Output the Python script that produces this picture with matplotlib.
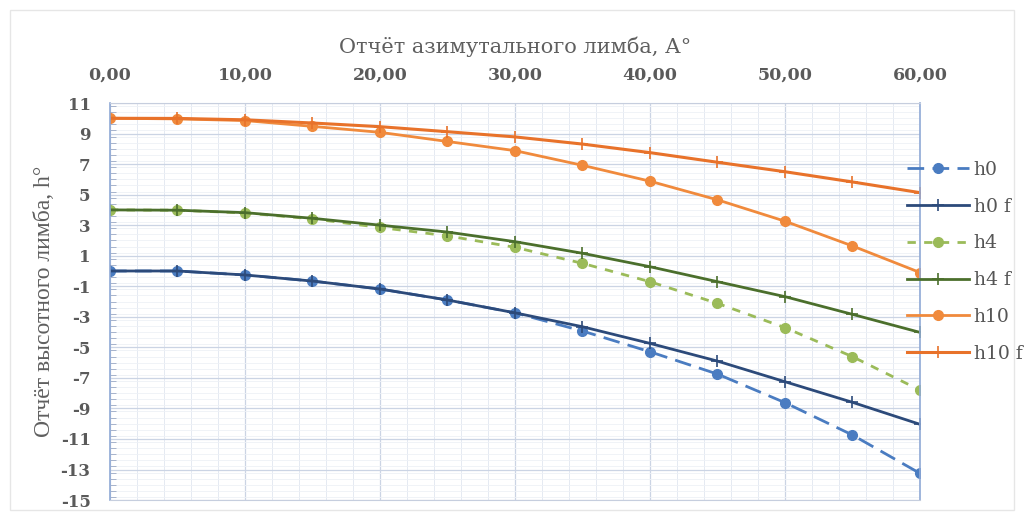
import matplotlib
matplotlib.use("Agg")
import matplotlib.pyplot as plt
from matplotlib.ticker import MultipleLocator, FuncFormatter
from matplotlib.patches import Rectangle

# азимут, градусы
azimuth = [0, 5, 10, 15, 20, 25, 30, 35, 40, 45, 50, 55, 60]

h0 = [0.0, 0.0, -0.26, -0.66, -1.18, -1.9, -2.74, -3.93, -5.29, -6.75, -8.62, -10.74, -13.25]
h0_f = [0.0, 0.0, -0.26, -0.66, -1.18, -1.9, -2.74, -3.65, -4.74, -5.9, -7.25, -8.6, -10.04]
h4 = [4.0, 3.98, 3.8, 3.42, 2.85, 2.3, 1.55, 0.5, -0.7, -2.12, -3.71, -5.61, -7.8]
h4_f = [4.0, 3.98, 3.82, 3.45, 3.0, 2.55, 1.92, 1.16, 0.28, -0.7, -1.68, -2.84, -4.02]
h10 = [10.0, 9.96, 9.85, 9.47, 9.08, 8.48, 7.88, 6.92, 5.88, 4.66, 3.26, 1.64, -0.1]
h10_f = [10.0, 9.99, 9.9, 9.69, 9.45, 9.12, 8.78, 8.31, 7.75, 7.12, 6.5, 5.83, 5.13]

wide = ["DejaVu Serif"]
narrow = ["Liberation Serif", "DejaVu Serif"]
plt.rcParams["font.family"] = wide
plt.rcParams["axes.unicode_minus"] = False

fig = plt.figure(figsize=(10.24, 5.15), dpi=100)
fig.patches.append(Rectangle((0.01, 0.01), 0.98, 0.97, transform=fig.transFigure,
                             fill=False, edgecolor="#e6e6e6", linewidth=1))
ax = fig.add_axes([0.1074, 0.029, 0.791, 0.771])

ax.plot(azimuth, h0, color="#4a7cc1", lw=2, ls=(0, (6, 3)), marker="o", ms=7, label="h0")
ax.plot(azimuth, h0_f, color="#2c4a7a", lw=2, marker="+", ms=8, mew=1.2, label="h0 f")
ax.plot(azimuth, h4, color="#9bbb59", lw=2, ls=(0, (3, 3)), marker="o", ms=7, label="h4")
ax.plot(azimuth, h4_f, color="#4b6f2c", lw=2, marker="+", ms=8, mew=1.2, label="h4 f")
ax.plot(azimuth, h10, color="#f08a3c", lw=2, marker="o", ms=7, label="h10")
ax.plot(azimuth, h10_f, color="#e8722a", lw=2.2, marker="+", ms=8, mew=1.2, label="h10 f")

ax.set_xlim(0, 60)
ax.set_ylim(-15, 11)
ax.xaxis.set_major_locator(MultipleLocator(10))
ax.xaxis.set_minor_locator(MultipleLocator(2))
ax.yaxis.set_minor_locator(MultipleLocator(0.4))
ax.set_yticks(range(-15, 12, 2))
ax.xaxis.set_major_formatter(FuncFormatter(lambda v, p: f"{v:.2f}".replace(".", ",")))
ax.xaxis.tick_top()
ax.xaxis.set_label_position("top")

ax.grid(which="major", color="#cbd4e4", lw=0.9)
ax.grid(which="minor", axis="x", color="#e5eaf2", lw=0.7)
ax.grid(which="minor", axis="y", color="#eef1f6", lw=0.6)
ax.set_axisbelow(True)

for side in ["left", "right"]:
    ax.spines[side].set_color("#8fa9d6")
    ax.spines[side].set_linewidth(1.2)
for side in ["top", "bottom"]:
    ax.spines[side].set_color("#c6cede")

ax.tick_params(axis="x", which="both", length=0, labelsize=12.5, labelcolor="#5a5a5a", pad=14)
ax.tick_params(axis="y", which="major", length=0, labelsize=12, labelcolor="#5a5a5a", pad=14)
ax.tick_params(axis="y", which="minor", length=4, color="#9aa8c4", direction="in")
for lbl in ax.get_xticklabels() + ax.get_yticklabels():
    lbl.set_fontweight("bold")

ax.set_xlabel("Отчёт азимутального лимба, А°", fontsize=15, color="#5f5f5f", labelpad=10)
ax.set_ylabel("Отчёт высотного лимба, h°", fontsize=17, color="#5f5f5f", labelpad=4,
              family=narrow)

leg = ax.legend(loc="center left", bbox_to_anchor=(0.984, 0.600), frameon=False,
                fontsize=13.5, handlelength=3.3, handletextpad=0.25, labelspacing=1.0,
                borderpad=0, borderaxespad=0, labelcolor="#555555")

fig.savefig("out.png", dpi=100)
